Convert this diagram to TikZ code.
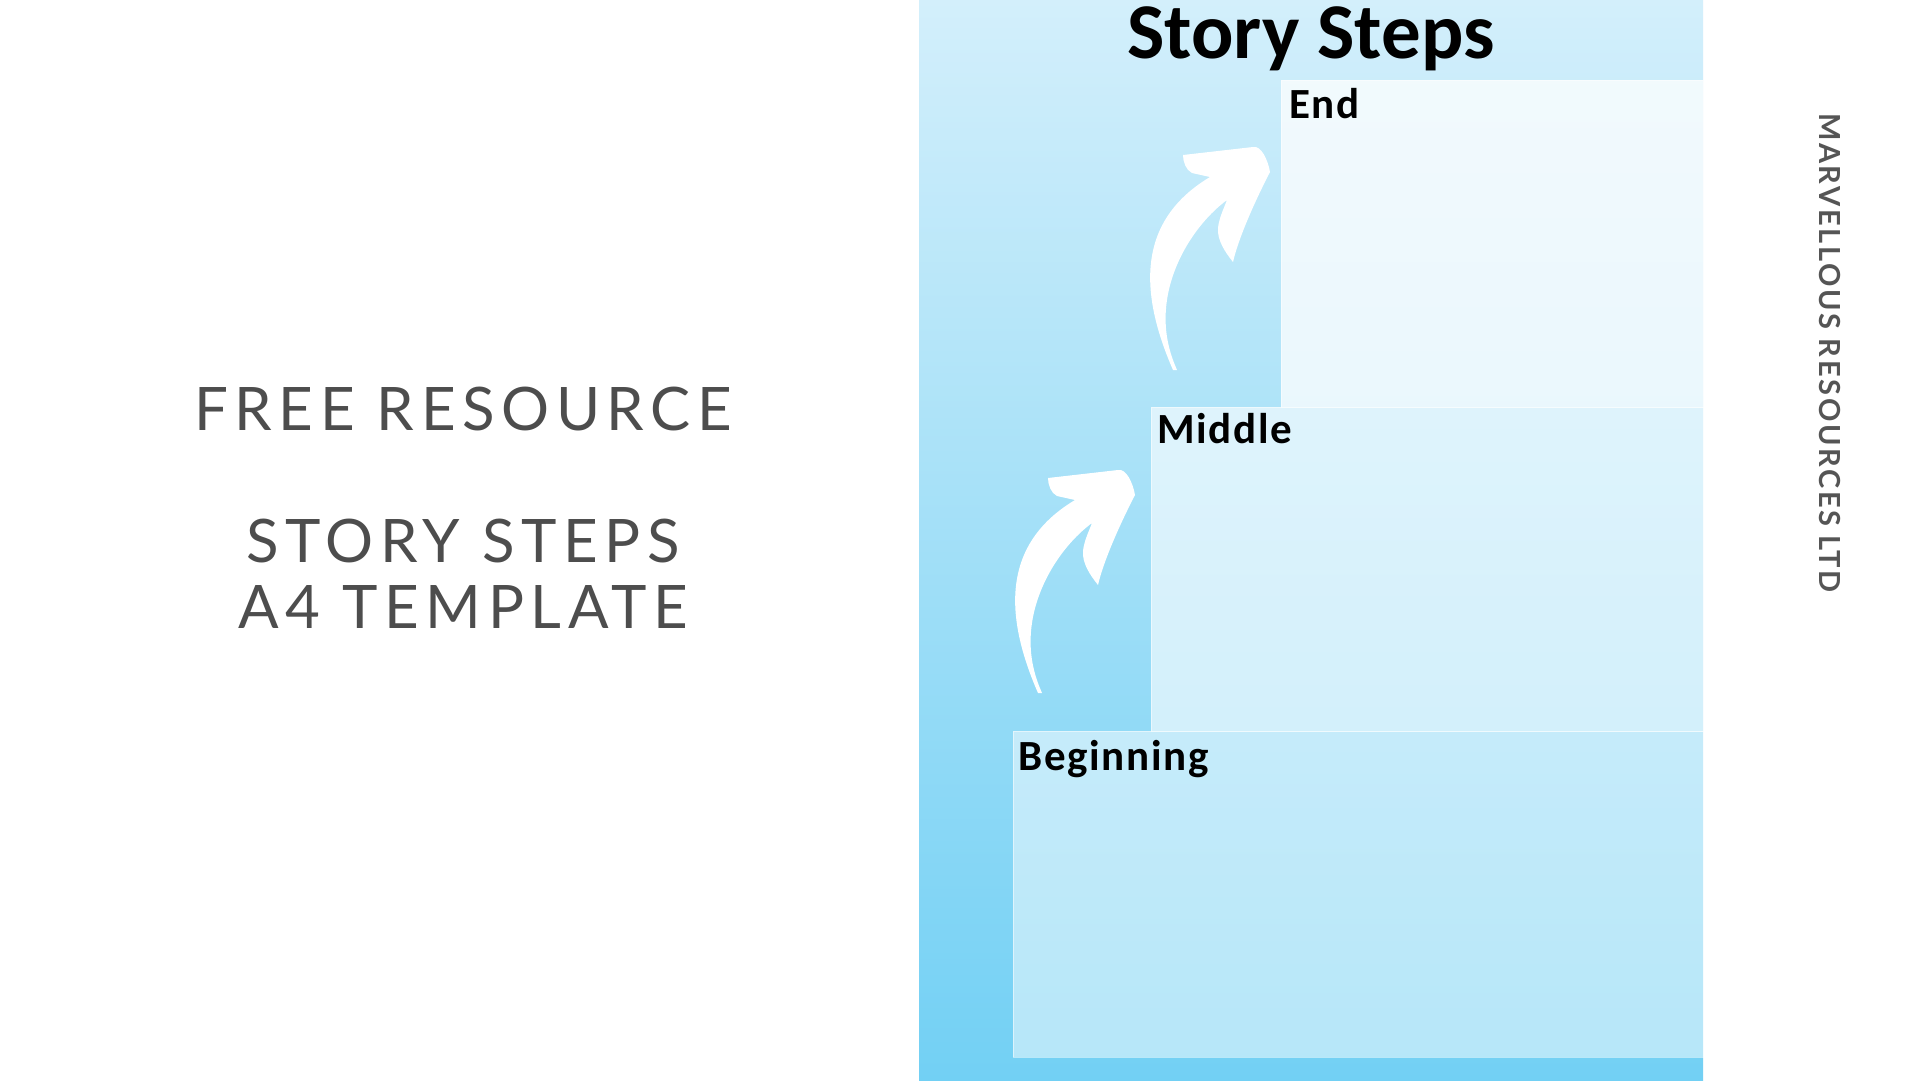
\documentclass[tikz,border=0pt]{standalone}
\usepackage{fontspec}
\usetikzlibrary{positioning}
\newfontfamily\headfont{Carlito}
\newfontfamily\labelfont{Carlito}[LetterSpace=4]
\newfontfamily\plainfont{Lato}[LetterSpace=11]
\newfontfamily\brandfont{Lato}[LetterSpace=9]
\definecolor{paneltop}{HTML}{D3EFFB}
\definecolor{panelbottom}{HTML}{72D0F4}
\definecolor{greytext}{HTML}{4D4D4D}
\definecolor{brandgrey}{HTML}{555555}

\tikzset{
	stepbox/.style={draw=white, draw opacity=0.5, fill=white, line width=1pt, anchor=north west, inner sep=0pt, outer sep=0pt},
	steplabel/.style={anchor=base west, inner sep=0pt, font=\labelfont\bfseries\fontsize{43}{43}\selectfont},
	freeline/.style={anchor=base, inner sep=0pt, text=greytext, font=\plainfont\fontsize{60}{60}\selectfont},
	steparrow/.pic={
		\fill[white] (0,0) .. controls (-35,-80) and (-35,-150) .. (37,-193)
			-- (19,-197) .. controls (13,-200) and (10,-208) .. (10,-215)
			-- (80,-223) .. controls (88,-225) and (95,-210) .. (97,-198)
			.. controls (80,-165) and (65,-130) .. (60,-108)
			.. controls (52,-118) and (44,-130) .. (45,-142)
			.. controls (46,-152) and (51,-162) .. (54,-170)
			.. controls (20,-145) and (-15,-90) .. (-6,-33)
			.. controls (-3,-15) and (2,-5) .. (4,0) -- cycle;
	}
}

\begin{document}
\begin{tikzpicture}[x=1pt, y=-1pt]
	\useasboundingbox (0,0) rectangle (1920,1080);
	\fill[white] (0,0) rectangle (1920,1080);
	% blue panel
	\shade[top color=paneltop, bottom color=panelbottom] (919,0) rectangle (1703,1080);
	\node[anchor=base, inner sep=0pt, font=\headfont\bfseries\fontsize{79}{79}\selectfont] (title) at (1311,58) {Story Steps};
	% the three steps
	\node[stepbox, fill opacity=0.75, minimum width=422pt, minimum height=327pt] (endbox) at (1281,80) {};
	\node[stepbox, fill opacity=0.6, minimum width=552pt, minimum height=324pt] (midbox) at (1151,407) {};
	\node[stepbox, fill opacity=0.48, minimum width=690pt, minimum height=326pt] (beginbox) at (1013,731) {};
	\node[steplabel] (endlabel) at ([xshift=8pt, yshift=-38pt]endbox.north west) {End};
	\node[steplabel] (midlabel) at ([xshift=6pt, yshift=-36pt]midbox.north west) {Middle};
	\node[steplabel] (beginlabel) at ([xshift=5pt, yshift=-39pt]beginbox.north west) {Beginning};
	\pic at (1173,370) {steparrow};
	\pic at (1038,693) {steparrow};
	% left side texts
	\node[freeline] (free) at (463,430) {FREE RESOURCE};
	\node[freeline] (storysteps) at (463,562) {STORY STEPS};
	\node[freeline] (template) at (463,628) {A4 TEMPLATE};
	\node[rotate=-90, inner sep=0pt, text=brandgrey, font=\brandfont\bfseries\fontsize{29}{29}\selectfont] (brand) at (1830,353) {MARVELLOUS RESOURCES LTD};
\end{tikzpicture}
\end{document}
